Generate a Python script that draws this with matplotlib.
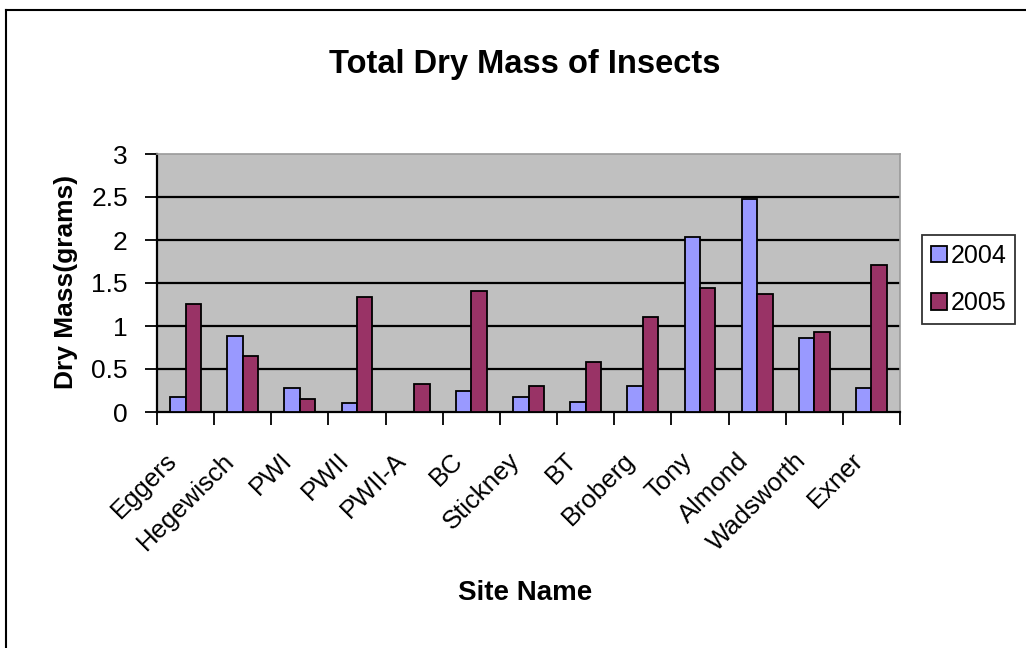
import numpy as np
import matplotlib.pyplot as plt
from matplotlib.lines import Line2D
from matplotlib.transforms import ScaledTranslation

plt.rcParams['font.family'] = ['Liberation Sans', 'DejaVu Sans']

# данные
sites = ['Eggers', 'Hegewisch', 'PWI', 'PWII', 'PWII-A', 'BC', 'Stickney',
         'BT', 'Broberg', 'Tony', 'Almond', 'Wadsworth', 'Exner']
mass_2004 = [0.17, 0.88, 0.28, 0.10, 0.0, 0.25, 0.17, 0.12, 0.30, 2.04, 2.48, 0.86, 0.28]
mass_2005 = [1.26, 0.65, 0.15, 1.34, 0.32, 1.41, 0.30, 0.58, 1.11, 1.44, 1.37, 0.93, 1.71]
years = ['2004', '2005']
yticks = [0, 0.5, 1, 1.5, 2, 2.5, 3]

fig = plt.figure(figsize=(10.26, 6.48), dpi=100)
ax = fig.add_axes([157/1026, 1 - 412/648, 743/1026, 258/648])
ax.set_facecolor('#C0C0C0')

x = np.arange(len(sites))
w = 0.27
ax.bar(x - w/2, mass_2004, w, color='#9999FF', edgecolor='black', linewidth=1.3,
       label=years[0], zorder=3)
ax.bar(x + w/2, mass_2005, w, color='#993366', edgecolor='black', linewidth=1.3,
       label=years[1], zorder=3)

# сетка (кроме нижней и верхней границы)
for v in yticks[1:-1]:
    ax.axhline(v, color='black', linewidth=1.6, zorder=1)

ax.set_xlim(-0.5, len(sites) - 0.5)
ax.set_ylim(0, 3)
ax.set_yticks(yticks)
ax.set_yticklabels(['0', '0.5', '1', '1.5', '2', '2.5', '3'])
ax.tick_params(axis='y', direction='out', length=9, width=1.3, pad=12, labelsize=19)

ax.set_xticks(x)
ax.set_xticklabels(sites, rotation=45, ha='right', va='center',
                   rotation_mode='anchor', fontsize=18.5)
ax.set_xticks(np.arange(len(sites) + 1) - 0.5, minor=True)
ax.tick_params(axis='x', which='major', length=0, pad=0)
ax.tick_params(axis='x', which='minor', direction='out', length=9, width=1.3)
offset = ScaledTranslation(-0.12, -0.45, fig.dpi_scale_trans)
for lab in ax.get_xticklabels():
    lab.set_transform(lab.get_transform() + offset)

for s in ['left', 'bottom']:
    ax.spines[s].set_color('black')
    ax.spines[s].set_linewidth(1.6)
for s in ['top', 'right']:
    ax.spines[s].set_color('#9A9A9A')
    ax.spines[s].set_linewidth(1.2)

fig.text(0.511, 0.90, 'Total Dry Mass of Insects', ha='center', va='center',
         fontsize=23.5, fontweight='bold')
fig.text(0.512, 0.085, 'Site Name', ha='center', va='center',
         fontsize=20, fontweight='bold')
fig.text(0.064, 0.565, 'Dry Mass(grams)', ha='center', va='center',
         rotation=90, fontsize=19, fontweight='bold')

leg = fig.legend(loc='upper left', bbox_to_anchor=(922/1026, 1 - 235/648),
                 fontsize=18, frameon=True, fancybox=False, edgecolor='black',
                 handlelength=0.65, handleheight=0.65, handletextpad=0.15,
                 borderpad=0.35, labelspacing=0.95, borderaxespad=0)
leg.get_frame().set_linewidth(1.3)

# рамка вокруг всего графика
fig.add_artist(Line2D([5.5/1026, 1], [1 - 9.5/648, 1 - 9.5/648], color='black', linewidth=1.5))
fig.add_artist(Line2D([5.5/1026, 5.5/1026], [0, 1 - 9.5/648], color='black', linewidth=1.5))

fig.savefig('out.png', dpi=100)
